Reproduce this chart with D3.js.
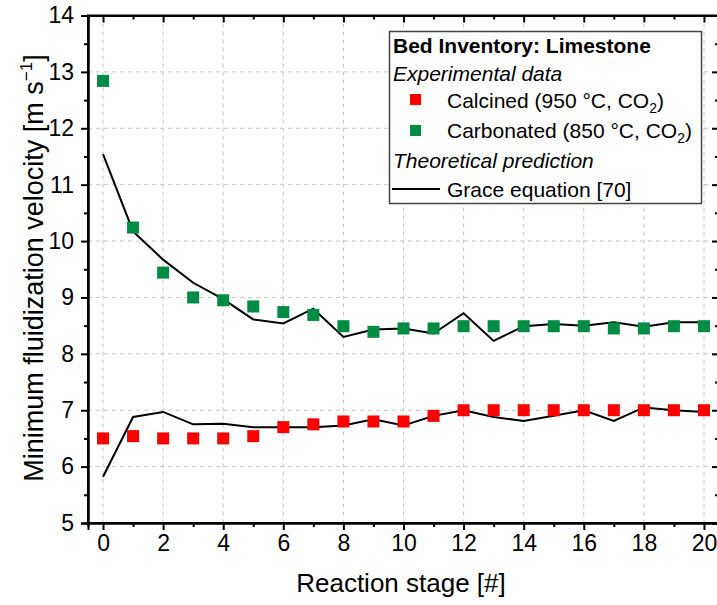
<!DOCTYPE html>
<html><head><meta charset="utf-8">
<script src="https://cdn.jsdelivr.net/npm/d3@7"></script>
<style>body{margin:0;background:#fff}svg{display:block;font-family:"Liberation Sans",Arial,sans-serif}</style>
</head><body><svg id="c" width="717" height="605"></svg>
<script>
const stages = d3.range(0, 21);
const calcined = [6.5,6.54,6.5,6.5,6.5,6.54,6.7,6.75,6.8,6.8,6.8,6.9,7.0,7.0,7.0,7.0,7.0,7.0,7.0,7.0,7.0];
const carbonated = [12.84,10.24,9.44,9.0,8.95,8.84,8.74,8.69,8.49,8.39,8.45,8.45,8.49,8.49,8.49,8.49,8.49,8.45,8.45,8.49,8.49];
const graceCalcined = [5.82,6.88,6.97,6.75,6.76,6.7,6.7,6.7,6.73,6.84,6.73,6.9,7.0,6.88,6.81,6.9,7.0,6.81,7.05,7.0,6.97];
const graceCarbonated = [11.54,10.17,9.67,9.26,8.97,8.61,8.54,8.8,8.3,8.43,8.45,8.36,8.72,8.23,8.49,8.53,8.5,8.56,8.48,8.56,8.56];
const xTicks = [0,2,4,6,8,10,12,14,16,18,20];
const yTicks = [5,6,7,8,9,10,11,12,13,14];

const svg = d3.select("#c");
const L = 88, R = 719, T = 15.5, B = 523;
const x = d3.scaleLinear().domain([-0.5, 20.5]).range([L, R]);
const y = d3.scaleLinear().domain([5, 14]).range([B, T]);

// grid
const g = svg.append("g");
g.selectAll("line.gx").data(xTicks).join("line")
  .attr("x1", d => x(d)).attr("x2", d => x(d)).attr("y1", T).attr("y2", B)
  .attr("stroke", "#c8c8c8").attr("stroke-width", 1).attr("stroke-dasharray", "4,4");
g.selectAll("line.gy").data(yTicks.filter(v => v > 5 && v < 14)).join("line")
  .attr("x1", L).attr("x2", R).attr("y1", d => y(d)).attr("y2", d => y(d))
  .attr("stroke", "#c8c8c8").attr("stroke-width", 1).attr("stroke-dasharray", "4,4");

// axes
const xb = svg.append("g").attr("transform", `translate(0,${B})`)
  .call(d3.axisBottom(x).tickValues(xTicks).tickSize(7).tickPadding(5).tickFormat(d3.format("d")));
const xbm = svg.append("g").attr("transform", `translate(0,${B})`)
  .call(d3.axisBottom(x).tickValues(d3.range(1, 21, 2)).tickSize(4).tickFormat(""));
const xt = svg.append("g").attr("transform", `translate(0,${T})`)
  .call(d3.axisBottom(x).tickValues(xTicks).tickSize(7).tickFormat(""));
const xtm = svg.append("g").attr("transform", `translate(0,${T})`)
  .call(d3.axisBottom(x).tickValues(d3.range(1, 21, 2)).tickSize(4).tickFormat(""));
const yl = svg.append("g").attr("transform", `translate(${L},0)`)
  .call(d3.axisLeft(y).tickValues(yTicks).tickSize(7).tickPadding(7).tickFormat(d3.format("d")));
const ylm = svg.append("g").attr("transform", `translate(${L},0)`)
  .call(d3.axisLeft(y).tickValues(d3.range(5.5, 14, 1)).tickSize(4).tickFormat(""));
const yr = svg.append("g").attr("transform", `translate(${R},0)`)
  .call(d3.axisLeft(y).tickValues(yTicks).tickSize(7).tickFormat(""));
const yrm = svg.append("g").attr("transform", `translate(${R},0)`)
  .call(d3.axisLeft(y).tickValues(d3.range(5.5, 14, 1)).tickSize(4).tickFormat(""));
[xb, xbm, xt, xtm, yl, ylm, yr, yrm].forEach(a => {
  a.selectAll(".domain").attr("stroke", "#000").attr("stroke-width", 2);
  a.selectAll(".tick line").attr("stroke", "#000").attr("stroke-width", 2);
  a.selectAll("text").attr("fill", "#000").style("font-size", "23px").style("font-family", '"Liberation Sans",Arial,sans-serif');
});
svg.append("rect").attr("x", L).attr("y", T).attr("width", R - L).attr("height", B - T)
  .attr("fill", "none").attr("stroke", "#000").attr("stroke-width", 2);

// lines
const line = d3.line().x((d, i) => x(stages[i])).y(d => y(d));
[graceCarbonated, graceCalcined].forEach(s => {
  svg.append("path").attr("d", line(s)).attr("fill", "none").attr("stroke", "#000").attr("stroke-width", 2).attr("stroke-linejoin", "miter");
});

// markers
const ms = 12;
const red = "#ff0000", green = "#008c45";
svg.append("g").selectAll("rect").data(calcined).join("rect")
  .attr("x", (d, i) => x(stages[i]) - ms / 2).attr("y", d => y(d) - ms / 2)
  .attr("width", ms).attr("height", ms).attr("fill", red);
svg.append("g").selectAll("rect").data(carbonated).join("rect")
  .attr("x", (d, i) => x(stages[i]) - ms / 2).attr("y", d => y(d) - ms / 2)
  .attr("width", ms).attr("height", ms).attr("fill", green);

// axis titles
svg.append("text").attr("x", 401).attr("y", 592).attr("text-anchor", "middle")
  .style("font-size", "26px").text("Reaction stage [#]");
const yt = svg.append("text").attr("transform", `translate(43,268) rotate(-90)`)
  .attr("text-anchor", "middle").style("font-size", "27px");
yt.append("tspan").text("Minimum fluidization velocity [m s");
yt.append("tspan").attr("dy", -11).style("font-size", "17px").text("−1");
yt.append("tspan").attr("dy", 11).text("]");

// legend
const lg = svg.append("g");
lg.append("rect").attr("x", 389.5).attr("y", 31.5).attr("width", 312).attr("height", 172)
  .attr("fill", "#fff").attr("stroke", "#444").attr("stroke-width", 1.5);
const fs = "21px";
lg.append("text").attr("x", 393).attr("y", 53).style("font-size", fs).style("font-weight", "bold").text("Bed Inventory: Limestone");
lg.append("text").attr("x", 393).attr("y", 81).style("font-size", fs).style("font-style", "italic").text("Experimental data");
lg.append("rect").attr("x", 410).attr("y", 94).attr("width", 11).attr("height", 11).attr("fill", red);
const t1 = lg.append("text").attr("x", 447).attr("y", 108).style("font-size", fs);
t1.append("tspan").text("Calcined (950 °C, CO");
t1.append("tspan").attr("dy", 5).style("font-size", "14px").text("2");
t1.append("tspan").attr("dy", -5).text(")");
lg.append("rect").attr("x", 410).attr("y", 125).attr("width", 11).attr("height", 11).attr("fill", green);
const t2 = lg.append("text").attr("x", 447).attr("y", 138).style("font-size", fs);
t2.append("tspan").text("Carbonated (850 °C, CO");
t2.append("tspan").attr("dy", 5).style("font-size", "14px").text("2");
t2.append("tspan").attr("dy", -5).text(")");
lg.append("text").attr("x", 393).attr("y", 168).style("font-size", fs).style("font-style", "italic").text("Theoretical prediction");
lg.append("line").attr("x1", 392).attr("x2", 440).attr("y1", 189).attr("y2", 189).attr("stroke", "#000").attr("stroke-width", 2);
lg.append("text").attr("x", 447).attr("y", 197).style("font-size", fs).text("Grace equation [70]");
</script></body></html>
